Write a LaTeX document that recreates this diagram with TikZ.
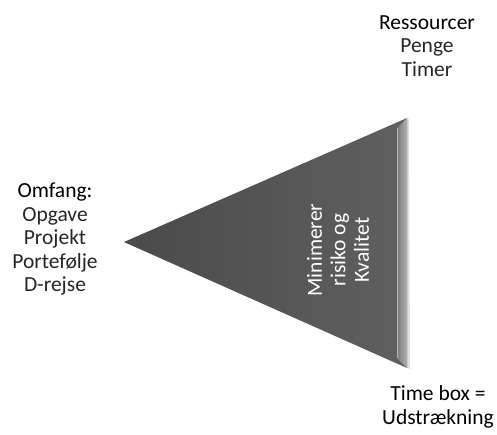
\documentclass[tikz,border=0pt]{standalone}
\usepackage{fontspec}
\setmainfont{Carlito}
\usetikzlibrary{shadings}
\definecolor{trifill}{HTML}{4E4E4E}
\definecolor{bevelA}{HTML}{7A7A7A}
\definecolor{bevelB}{HTML}{B0B0B0}
\definecolor{subtext}{HTML}{262626}
\tikzset{
  lbl/.style={align=center, inner sep=0pt, font=\fontsize{21.5}{23.5}\selectfont},
}
\begin{document}
\begin{tikzpicture}[x=1pt,y=-1pt]
\useasboundingbox (0,0) rectangle (497,434);
% soft shadow
\fill[black!12] (126,243) -- (409,119) -- (410,369) -- cycle;
% main triangle
\shade[left color=trifill!95!black, right color=trifill!90!white] (124,242) -- (407,118) -- (407,368) -- cycle;
% right bevel
\shade[left color=bevelA, right color=bevelB] (397,128) -- (407,118) -- (407,368) -- (397,358) -- cycle;
\draw[black!30, line width=0.4pt] (397,128) -- (397,358);
\node[lbl, text=white, rotate=90] (tri) at (338,250) {Minimerer\\risiko og\\Kvalitet};
\node[lbl] (omf) at (55,239) {Omfang:\\\textcolor{subtext}{Opgave}\\\textcolor{subtext}{Projekt}\\\textcolor{subtext}{Portefølje}\\\textcolor{subtext}{D-rejse}};
\node[lbl] (res) at (427,46) {Ressourcer\\\textcolor{subtext}{Penge}\\\textcolor{subtext}{Timer}};
\node[lbl] (tb) at (438,407) {Time box =\\Udstrækning};
\end{tikzpicture}
\end{document}
